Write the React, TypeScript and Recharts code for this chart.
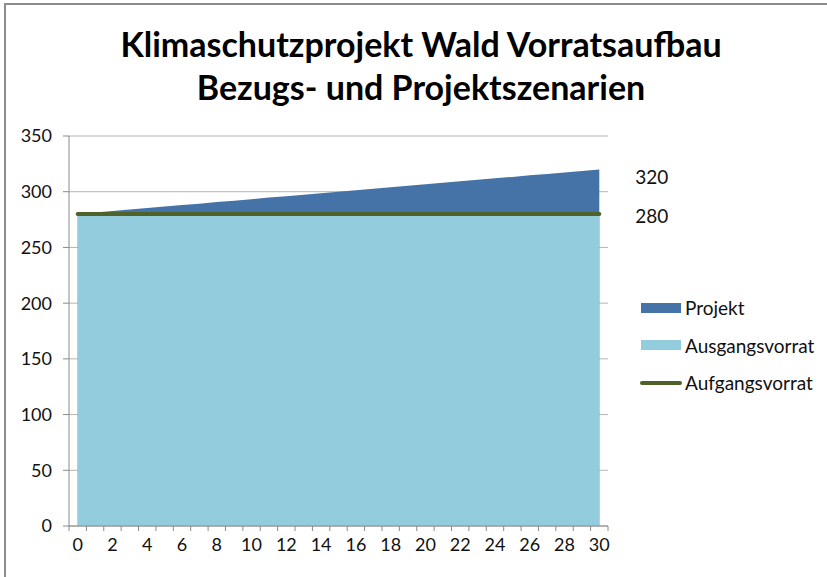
import React from 'react';
import {
  ComposedChart,
  Area,
  Line,
  XAxis,
  YAxis,
  CartesianGrid,
  Legend,
  LabelList,
} from 'recharts';

// Jahre 0..30
const jahre = [0, 1, 2, 3, 4, 5, 6, 7, 8, 9, 10, 11, 12, 13, 14, 15, 16, 17, 18, 19, 20, 21, 22, 23, 24, 25, 26, 27, 28, 29, 30];
// Vorrat im Projektszenario (Oberkante der dunklen Fläche)
const projekt = [280, 281.3, 282.7, 284, 285.3, 286.7, 288, 289.3, 290.7, 292, 293.3, 294.7, 296, 297.3, 298.7, 300, 301.3, 302.7, 304, 305.3, 306.7, 308, 309.3, 310.7, 312, 313.3, 314.7, 316, 317.3, 318.7, 320];
const ausgangsvorrat = [280, 280, 280, 280, 280, 280, 280, 280, 280, 280, 280, 280, 280, 280, 280, 280, 280, 280, 280, 280, 280, 280, 280, 280, 280, 280, 280, 280, 280, 280, 280];
const aufgangsvorrat = [280, 280, 280, 280, 280, 280, 280, 280, 280, 280, 280, 280, 280, 280, 280, 280, 280, 280, 280, 280, 280, 280, 280, 280, 280, 280, 280, 280, 280, 280, 280];

const xLabels = [0, 2, 4, 6, 8, 10, 12, 14, 16, 18, 20, 22, 24, 26, 28, 30];
const xEdges = [-0.5, 0.5, 1.5, 2.5, 3.5, 4.5, 5.5, 6.5, 7.5, 8.5, 9.5, 10.5, 11.5, 12.5, 13.5, 14.5, 15.5, 16.5, 17.5, 18.5, 19.5, 20.5, 21.5, 22.5, 23.5, 24.5, 25.5, 26.5, 27.5, 28.5, 29.5, 30.5];
const yTicks = [0, 50, 100, 150, 200, 250, 300, 350];

const FONT = 'Lato, "Open Sans", sans-serif';
const C_PROJEKT = '#4572A7';
const C_AUSGANG = '#93CDDD';
const C_AUFGANG = '#4F6228';
const C_AXIS = '#8a8a8a';

const data = jahre.map((j, i) => ({
  jahr: j,
  Projekt: projekt[i],
  Ausgangsvorrat: ausgangsvorrat[i],
  Aufgangsvorrat: aufgangsvorrat[i],
}));

const legendItems = [
  { name: 'Projekt', color: C_PROJEKT, kind: 'area' },
  { name: 'Ausgangsvorrat', color: C_AUSGANG, kind: 'area' },
  { name: 'Aufgangsvorrat', color: C_AUFGANG, kind: 'line' },
];

const XTick = (props: any) => {
  const { x, y, payload } = props;
  const v = payload.value;
  if (!Number.isInteger(v)) {
    return <line x1={x} x2={x} y1={y - 8} y2={y - 3} stroke={C_AXIS} strokeWidth={1} />;
  }
  return (
    <text x={x} y={y + 17} textAnchor="middle" fontFamily={FONT} fontSize={18} fill="#111">
      {v}
    </text>
  );
};

const endLabel = (dy: number) => (props: any) => {
  const { x, y, value, index } = props;
  if (index !== jahre.length - 1) return null;
  return (
    <text x={x + 36} y={y + dy} dominantBaseline="central" fontFamily={FONT} fontSize={19} fill="#111">
      {Math.round(value)}
    </text>
  );
};

const renderLegend = () => (
  <div style={{ fontFamily: FONT, fontSize: 19, color: '#111' }}>
    {legendItems.map(it => (
      <div key={it.name} style={{ display: 'flex', alignItems: 'center', height: 37.5 }}>
        <svg width={44} height={12} style={{ marginRight: 1 }}>
          {it.kind === 'area' ? (
            <rect x={1} y={1} width={40} height={10} fill={it.color} />
          ) : (
            <line x1={2} x2={40} y1={6} y2={6} stroke={it.color} strokeWidth={4} strokeLinecap="round" />
          )}
        </svg>
        <span>{it.name}</span>
      </div>
    ))}
  </div>
);

export default function App() {
  return (
    <div style={{ position: 'absolute', top: 0, left: 0, width: 827, height: 577, background: '#fff', overflow: 'hidden' }}>
      <div style={{ position: 'absolute', top: 3, left: 4, width: 840, height: 600, borderTop: '2px solid #8c8c8c', borderLeft: '2px solid #8c8c8c' }} />
      <div
        style={{
          position: 'absolute',
          top: 22,
          left: 15,
          width: 812,
          textAlign: 'center',
          fontFamily: FONT,
          fontWeight: 700,
          fontSize: 34,
          lineHeight: '43px',
          color: '#000',
        }}
      >
        Klimaschutzprojekt Wald Vorratsaufbau
        <br />
        Bezugs- und Projektszenarien
      </div>
      <ComposedChart
        width={827}
        height={577}
        data={data}
        margin={{ top: 136, right: 219, bottom: 21, left: 0 }}
        style={{ position: 'absolute', top: 0, left: 0 }}
      >
        <CartesianGrid vertical={false} stroke="#b4b4b4" />
        <XAxis
          dataKey="jahr"
          type="number"
          domain={[-0.5, 30.5]}
          ticks={[...xEdges, ...xLabels]}
          interval={0}
          height={30}
          tickLine={false}
          axisLine={{ stroke: C_AXIS }}
          tick={<XTick />}
        />
        <YAxis
          domain={[0, 350]}
          ticks={yTicks}
          interval={0}
          width={69}
          tickSize={6}
          tickMargin={11}
          axisLine={{ stroke: C_AXIS }}
          tickLine={{ stroke: C_AXIS }}
          tick={{ fontFamily: FONT, fontSize: 18, fill: '#111' }}
        />
        <Area
          dataKey="Projekt"
          type="linear"
          fill={C_PROJEKT}
          fillOpacity={1}
          stroke="none"
          isAnimationActive={false}
        >
          <LabelList dataKey="Projekt" content={endLabel(7)} />
        </Area>
        <Area
          dataKey="Ausgangsvorrat"
          type="linear"
          fill={C_AUSGANG}
          fillOpacity={1}
          stroke="none"
          isAnimationActive={false}
        />
        <Line
          dataKey="Aufgangsvorrat"
          type="linear"
          stroke={C_AUFGANG}
          strokeWidth={4}
          strokeLinecap="round"
          dot={false}
          isAnimationActive={false}
        >
          <LabelList dataKey="Aufgangsvorrat" content={endLabel(1)} />
        </Line>
        <Legend
          layout="vertical"
          align="center"
          verticalAlign="middle"
          wrapperStyle={{ left: 640, top: 289, width: 187 }}
          content={renderLegend}
        />
      </ComposedChart>
    </div>
  );
}
